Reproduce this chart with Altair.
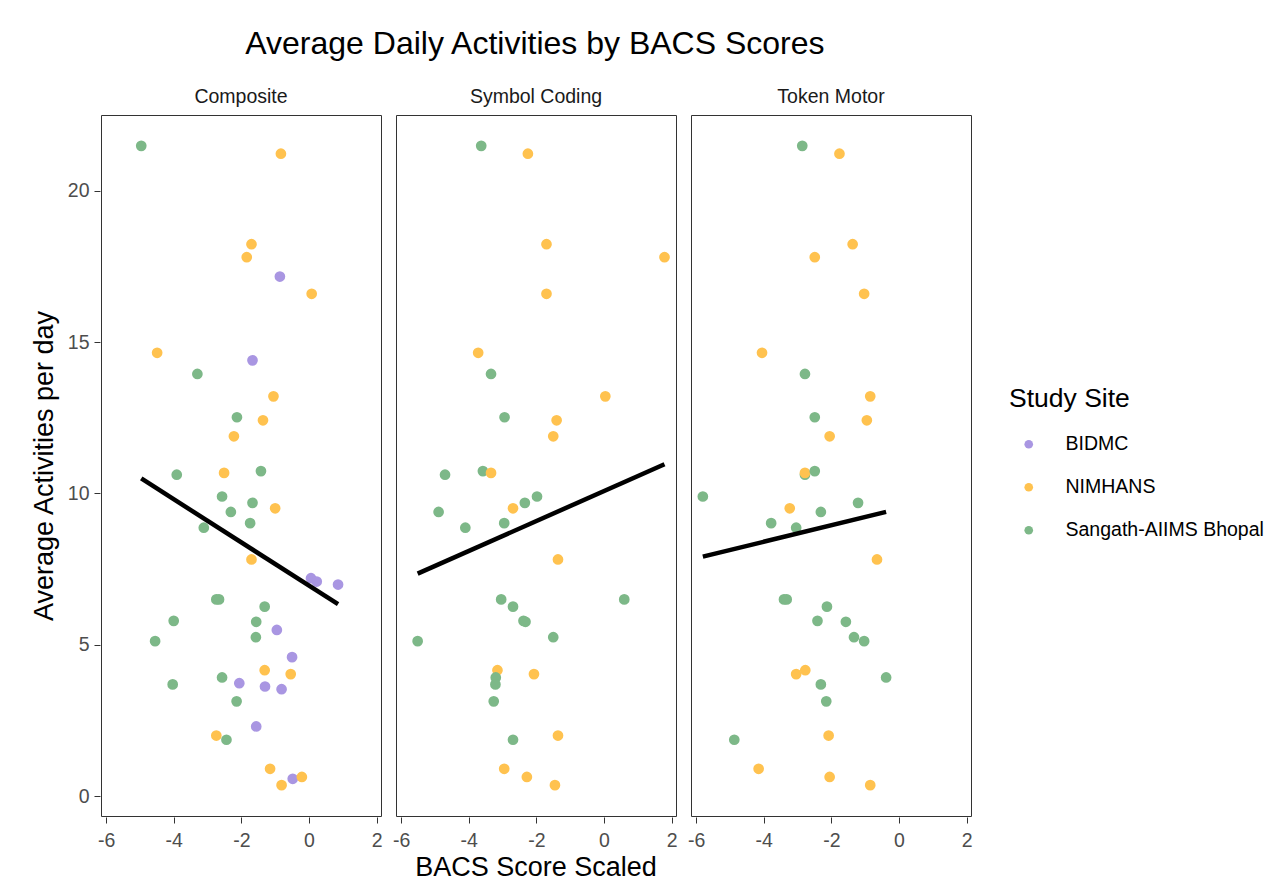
import altair as alt
import pandas as pd

panels = ["Composite", "Symbol Coding", "Token Motor"]
sites = ["BIDMC", "NIMHANS", "Sangath-AIIMS Bhopal"]
site_colors = ["#A996E2", "#FFC24F", "#7DB888"]

# Composite panel
comp_x = [-4.96, -0.83, -1.70, -1.84, -0.86, 0.08, -4.49, -1.67, -3.30, -1.05, -2.13, -1.36, -2.22,
          -3.91, -2.51, -1.42, -2.57, -1.67, -1.00, -2.31, -1.74, -3.11, -1.70, 0.06, 0.23, 0.86,
          -2.74, -2.66, -1.31, -4.00, -1.56, -0.95, -1.57, -4.55, -0.50, -1.31, -0.54, -2.57,
          -2.06, -4.03, -1.30, -0.81, -2.14, -1.56, -2.74, -2.44, -1.15, -0.48, -0.21, -0.81]
comp_y = [21.49, 21.23, 18.24, 17.81, 17.17, 16.60, 14.65, 14.40, 13.95, 13.21, 12.52, 12.42, 11.89,
          10.62, 10.68, 10.74, 9.90, 9.69, 9.51, 9.39, 9.02, 8.87, 7.82, 7.20, 7.09, 6.99,
          6.50, 6.50, 6.26, 5.79, 5.76, 5.49, 5.25, 5.12, 4.59, 4.16, 4.03, 3.92,
          3.73, 3.69, 3.62, 3.53, 3.13, 2.30, 2.00, 1.86, 0.90, 0.57, 0.63, 0.36]
comp_site = ["S", "N", "N", "N", "B", "N", "N", "B", "S", "N", "S", "N", "N",
             "S", "N", "S", "S", "S", "N", "S", "S", "S", "N", "B", "B", "B",
             "S", "S", "S", "S", "S", "B", "S", "S", "B", "N", "N", "S",
             "B", "S", "B", "B", "S", "B", "N", "S", "N", "B", "N", "N"]

# Symbol Coding panel
sym_x = [-3.63, -2.25, -1.70, 1.79, -1.70, -3.72, -3.34, 0.04, -2.94, -1.40, -1.50,
         -4.70, -3.58, -3.34, -1.98, -2.34, -2.69, -4.89, -2.95, -4.10, -1.36,
         -3.04, 0.60, -2.69, -2.38, -2.32, -1.50, -5.51, -3.15, -2.07, -3.20, -3.21,
         -3.26, -2.69, -1.36, -2.95, -2.28, -1.45]
sym_y = [21.49, 21.23, 18.24, 17.81, 16.60, 14.65, 13.95, 13.21, 12.52, 12.42, 11.89,
         10.62, 10.74, 10.68, 9.90, 9.69, 9.51, 9.39, 9.02, 8.87, 7.82,
         6.50, 6.50, 6.26, 5.79, 5.76, 5.25, 5.12, 4.16, 4.03, 3.92, 3.69,
         3.13, 1.86, 2.00, 0.90, 0.63, 0.36]
sym_site = ["S", "N", "N", "N", "N", "N", "S", "N", "S", "N", "N",
            "S", "S", "N", "S", "S", "N", "S", "S", "S", "N",
            "S", "S", "S", "S", "S", "S", "S", "N", "N", "S", "S",
            "S", "S", "N", "N", "N", "N"]

# Token Motor panel
tok_x = [-2.86, -1.76, -1.37, -2.49, -1.03, -4.05, -2.78, -0.85, -2.49, -0.95, -2.05,
         -2.78, -2.78, -2.49, -5.80, -1.21, -3.23, -2.31, -3.78, -3.04, -0.65,
         -3.40, -3.32, -2.13, -2.41, -1.57, -1.33, -1.03, -2.77, -3.04, -0.38, -2.31,
         -2.15, -4.87, -2.08, -4.15, -2.05, -0.85]
tok_y = [21.49, 21.23, 18.24, 17.81, 16.60, 14.65, 13.95, 13.21, 12.52, 12.42, 11.89,
         10.62, 10.68, 10.74, 9.90, 9.69, 9.51, 9.39, 9.02, 8.87, 7.82,
         6.50, 6.50, 6.26, 5.79, 5.76, 5.25, 5.12, 4.16, 4.03, 3.92, 3.69,
         3.13, 1.86, 2.00, 0.90, 0.63, 0.36]
tok_site = ["S", "N", "N", "N", "N", "N", "S", "N", "S", "N", "N",
            "S", "N", "S", "S", "S", "N", "S", "S", "S", "N",
            "S", "S", "S", "S", "S", "S", "S", "N", "N", "S", "S",
            "S", "S", "N", "N", "N", "N"]

code = {"B": "BIDMC", "N": "NIMHANS", "S": "Sangath-AIIMS Bhopal"}
rows = []
for name, xs, ys, ss in [(panels[0], comp_x, comp_y, comp_site),
                         (panels[1], sym_x, sym_y, sym_site),
                         (panels[2], tok_x, tok_y, tok_site)]:
    for x, y, s in zip(xs, ys, ss):
        rows.append({"panel": name, "score": x, "activities": y, "site": code[s]})
df = pd.DataFrame(rows)

FONT = "Liberation Sans"

xs = alt.Scale(domain=[-6.15, 2.13], nice=False, zero=False)
ys = alt.Scale(domain=[-0.66, 22.51], nice=False, zero=False)

points = alt.Chart().mark_circle(size=115, opacity=1).encode(
    x=alt.X("score:Q", scale=xs,
            axis=alt.Axis(values=[-6, -4, -2, 0, 2], title=None, grid=False,
                          labelExpr="'' + datum.value",
                          labelFontSize=19.5, labelColor="#4D4D4D", labelFont=FONT,
                          tickColor="#333333", tickSize=6, domain=False, labelPadding=8)),
    y=alt.Y("activities:Q", scale=ys,
            axis=alt.Axis(values=[0, 5, 10, 15, 20], title="Average Activities per day",
                          grid=False, labelFontSize=19.5, labelColor="#4D4D4D", labelFont=FONT,
                          tickColor="#333333", tickSize=6, domain=False, labelPadding=5,
                          titleFontSize=27, titleFont=FONT, titleFontWeight="normal",
                          titleColor="#000000", titlePadding=9)),
    color=alt.Color("site:N", scale=alt.Scale(domain=sites, range=site_colors),
                    legend=alt.Legend(title="Study Site", titleFontSize=26.5, titleFont=FONT,
                                      titleFontWeight="normal", titleColor="#000000",
                                      labelFontSize=19.5, labelFont=FONT, labelColor="#000000",
                                      labelLimit=0, symbolSize=75, symbolType="circle",
                                      symbolOffset=10, labelOffset=27,
                                      rowPadding=22, titlePadding=22, padding=0,
                                      orient="none", legendX=908, legendY=271)),
)

line = alt.Chart().transform_regression(
    "score", "activities"
).mark_line(color="black", strokeWidth=4.5).encode(
    x=alt.X("score:Q", scale=xs),
    y=alt.Y("activities:Q", scale=ys),
)

chart = alt.layer(points, line, data=df).properties(
    width=280, height=701
).facet(
    column=alt.Column("panel:N", sort=panels,
                      header=alt.Header(title="BACS Score Scaled", titleOrient="bottom",
                                        labelOrient="top", labelFontSize=19.5, labelFont=FONT,
                                        labelColor="#1A1A1A", labelPadding=7,
                                        titleFontSize=27, titleFont=FONT,
                                        titleFontWeight="normal", titleColor="#000000",
                                        titlePadding=-5)),
    spacing=13,
).properties(
    title=alt.TitleParams("Average Daily Activities by BACS Scores", fontSize=32, font=FONT,
                          fontWeight="normal", color="#000000", anchor="start", dx=215,
                          offset=26),
    padding={"left": 22, "top": 19, "right": 5, "bottom": 5},
).configure_view(
    stroke="#333333", strokeWidth=1
)

chart.save("out.html", embed_options={"renderer": "svg", "actions": False})
